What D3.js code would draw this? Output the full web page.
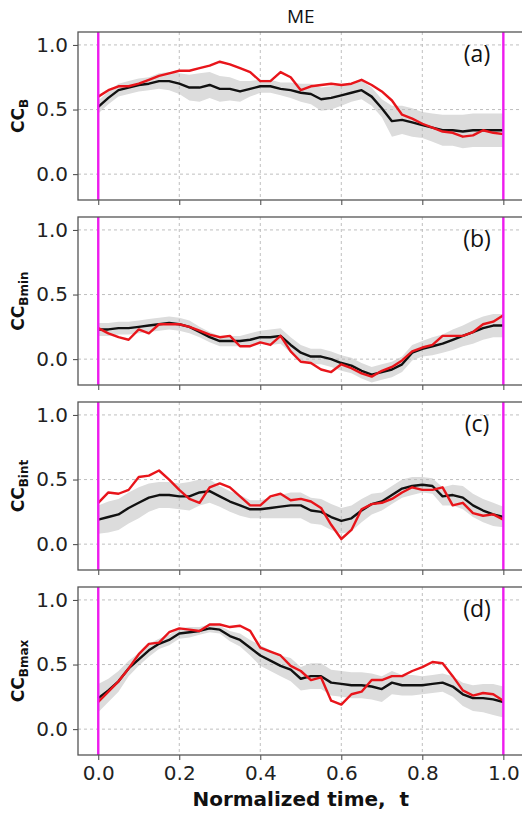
<!DOCTYPE html>
<html>
<head>
<meta charset="utf-8">
<script src="https://cdn.jsdelivr.net/npm/d3@7"></script>
<style>
  body { margin: 0; background: #fff; }
</style>
</head>
<body>
<div id="chart"></div>
<script>
// normalized time samples
var T = [0.000,0.025,0.050,0.075,0.100,0.125,0.150,0.175,0.200,0.225,
         0.250,0.275,0.300,0.325,0.350,0.375,0.400,0.425,0.450,0.475,
         0.500,0.525,0.550,0.575,0.600,0.625,0.650,0.675,0.700,0.725,
         0.750,0.775,0.800,0.825,0.850,0.875,0.900,0.925,0.950,0.975,1.000];

var xTicks = [0.0, 0.2, 0.4, 0.6, 0.8, 1.0];
var yTicks = [0.0, 0.5, 1.0];
var panelTags = ["(a)", "(b)", "(c)", "(d)"];
var panelSubs = ["B", "Bmin", "Bint", "Bmax"];

// (a) CC_B
var meanA = [0.52,0.59,0.65,0.67,0.69,0.70,0.72,0.72,0.70,0.67,0.67,0.69,0.66,0.66,0.64,0.66,0.68,0.68,0.66,0.65,
             0.63,0.62,0.58,0.59,0.61,0.63,0.65,0.60,0.51,0.41,0.42,0.40,0.38,0.36,0.34,0.34,0.33,0.34,0.34,0.34,0.34];
var spreadA = [0.05,0.05,0.05,0.05,0.05,0.05,0.06,0.07,0.08,0.10,0.11,0.10,0.10,0.09,0.08,0.06,0.05,0.05,0.05,0.06,
               0.07,0.08,0.09,0.09,0.08,0.07,0.07,0.07,0.07,0.12,0.11,0.11,0.10,0.11,0.12,0.12,0.13,0.13,0.13,0.13,0.13];
var redA = [0.60,0.65,0.68,0.68,0.70,0.73,0.76,0.78,0.80,0.80,0.82,0.84,0.87,0.85,0.82,0.79,0.72,0.72,0.79,0.75,
            0.65,0.68,0.69,0.70,0.69,0.70,0.73,0.69,0.64,0.57,0.46,0.43,0.39,0.36,0.33,0.32,0.29,0.30,0.34,0.32,0.31];

// (b) CC_Bmin
var meanB = [0.23,0.23,0.24,0.24,0.25,0.26,0.27,0.28,0.27,0.25,0.21,0.17,0.14,0.14,0.14,0.15,0.17,0.17,0.18,0.11,
             0.05,0.02,0.02,0.00,-0.03,-0.05,-0.09,-0.12,-0.10,-0.08,-0.04,0.05,0.08,0.10,0.12,0.15,0.18,0.21,0.24,0.26,0.26];
var spreadB = [0.05,0.05,0.05,0.05,0.05,0.05,0.05,0.05,0.05,0.05,0.04,0.04,0.04,0.04,0.04,0.05,0.05,0.06,0.06,0.06,
               0.06,0.06,0.06,0.06,0.06,0.06,0.06,0.06,0.06,0.06,0.06,0.06,0.06,0.07,0.07,0.08,0.08,0.09,0.09,0.09,0.09];
var redB = [0.24,0.20,0.17,0.15,0.23,0.20,0.27,0.27,0.27,0.25,0.22,0.19,0.17,0.18,0.10,0.10,0.13,0.11,0.18,0.06,
            -0.02,-0.03,-0.08,-0.10,-0.04,-0.07,-0.11,-0.135,-0.09,-0.06,-0.01,0.06,0.09,0.11,0.18,0.18,0.18,0.21,0.27,0.29,0.34];

// (c) CC_Bint
var meanC = [0.19,0.21,0.23,0.28,0.32,0.36,0.38,0.38,0.37,0.37,0.40,0.41,0.37,0.33,0.30,0.27,0.27,0.28,0.29,0.30,
             0.30,0.26,0.25,0.21,0.18,0.20,0.26,0.31,0.33,0.38,0.43,0.45,0.46,0.45,0.37,0.38,0.36,0.30,0.26,0.23,0.21];
var spreadC = [0.11,0.12,0.12,0.12,0.12,0.11,0.10,0.10,0.10,0.11,0.10,0.09,0.08,0.08,0.08,0.07,0.07,0.08,0.09,0.10,
               0.10,0.10,0.10,0.10,0.10,0.10,0.09,0.08,0.07,0.07,0.07,0.07,0.06,0.06,0.07,0.08,0.09,0.09,0.09,0.09,0.08];
var redC = [0.32,0.40,0.39,0.42,0.52,0.53,0.57,0.50,0.42,0.35,0.32,0.44,0.47,0.44,0.37,0.30,0.30,0.37,0.39,0.34,
            0.35,0.33,0.28,0.15,0.04,0.11,0.27,0.31,0.32,0.35,0.40,0.44,0.42,0.42,0.44,0.30,0.32,0.24,0.22,0.23,0.19];

// (d) CC_Bmax
var meanD = [0.24,0.30,0.37,0.47,0.54,0.61,0.66,0.69,0.74,0.75,0.76,0.78,0.77,0.72,0.69,0.63,0.57,0.53,0.49,0.46,
             0.39,0.41,0.41,0.36,0.35,0.34,0.34,0.33,0.31,0.36,0.34,0.34,0.34,0.35,0.36,0.33,0.27,0.24,0.24,0.23,0.21];
var spreadD = [0.11,0.09,0.08,0.06,0.05,0.05,0.04,0.04,0.04,0.04,0.03,0.03,0.03,0.04,0.05,0.06,0.08,0.08,0.08,0.09,
               0.09,0.10,0.10,0.10,0.10,0.10,0.10,0.10,0.10,0.09,0.08,0.08,0.07,0.07,0.07,0.08,0.09,0.10,0.11,0.12,0.12];
var redD = [0.21,0.29,0.37,0.47,0.58,0.66,0.67,0.75,0.78,0.77,0.76,0.81,0.81,0.79,0.80,0.76,0.63,0.60,0.57,0.49,
            0.45,0.38,0.40,0.22,0.19,0.27,0.29,0.38,0.38,0.41,0.41,0.45,0.48,0.52,0.51,0.41,0.30,0.26,0.28,0.27,0.22];

var means = [meanA, meanB, meanC, meanD];
var spreads = [spreadA, spreadB, spreadC, spreadD];
var reds = [redA, redB, redC, redD];

var W = 522, H = 814;
var left = 78, right = 523.6;
var panelTop = 32, panelH = 168, panelStep = 185;
var tickFont = "'DejaVu Sans', sans-serif";

var svg = d3.select("#chart").append("svg")
    .attr("width", W)
    .attr("height", H);

var x = d3.scaleLinear().domain([-0.05, 1.05]).range([left, right]);

// title
svg.append("text")
    .attr("x", (left + right) / 2)
    .attr("y", 23)
    .attr("text-anchor", "middle")
    .style("font-family", "'Open Sans', sans-serif")
    .style("font-size", "19px")
    .style("fill", "#111")
    .text("ME");

function drawPanel(p) {
    var py = panelTop + p * panelStep;
    var y = d3.scaleLinear().domain([-0.2, 1.1]).range([py + panelH, py]);
    var g = svg.append("g");

    g.append("clipPath").attr("id", "clip" + p)
        .append("rect")
        .attr("x", left).attr("y", py)
        .attr("width", right - left).attr("height", panelH);

    var rows = T.map(function (t, i) {
        return { t: t, m: means[p][i], s: spreads[p][i], r: reds[p][i] };
    });

    var plot = g.append("g").attr("clip-path", "url(#clip" + p + ")");

    // std band
    plot.append("path")
        .datum(rows)
        .attr("fill", "#dcdcdc")
        .attr("d", d3.area()
            .x(function (d) { return x(d.t); })
            .y0(function (d) { return y(d.m - d.s); })
            .y1(function (d) { return y(d.m + d.s); }));

    // dashed grid
    plot.selectAll(".gx").data(xTicks).enter().append("line")
        .attr("x1", function (d) { return x(d); })
        .attr("x2", function (d) { return x(d); })
        .attr("y1", py).attr("y2", py + panelH)
        .attr("stroke", "#b8b8b8").attr("stroke-width", 0.9)
        .attr("stroke-dasharray", "3,3");
    plot.selectAll(".gy").data(yTicks).enter().append("line")
        .attr("x1", left).attr("x2", right)
        .attr("y1", function (d) { return y(d); })
        .attr("y2", function (d) { return y(d); })
        .attr("stroke", "#b8b8b8").attr("stroke-width", 0.9)
        .attr("stroke-dasharray", "3,3");

    // mean (black) and individual (red)
    plot.append("path")
        .datum(rows)
        .attr("fill", "none")
        .attr("stroke", "#111")
        .attr("stroke-width", 2.4)
        .attr("stroke-linejoin", "round")
        .attr("d", d3.line()
            .x(function (d) { return x(d.t); })
            .y(function (d) { return y(d.m); }));
    plot.append("path")
        .datum(rows)
        .attr("fill", "none")
        .attr("stroke", "#e8151b")
        .attr("stroke-width", 2.4)
        .attr("stroke-linejoin", "round")
        .attr("d", d3.line()
            .x(function (d) { return x(d.t); })
            .y(function (d) { return y(d.r); }));

    // magenta markers at t=0 and t=1
    plot.selectAll(".vl").data([0, 1]).enter().append("line")
        .attr("x1", function (d) { return x(d); })
        .attr("x2", function (d) { return x(d); })
        .attr("y1", py).attr("y2", py + panelH)
        .attr("stroke", "#ee1cee").attr("stroke-width", 2.4);

    // axes
    var xAxis = g.append("g")
        .attr("transform", "translate(0," + (py + panelH) + ")")
        .call(d3.axisBottom(x).tickValues(xTicks).tickSize(5).tickPadding(6)
            .tickFormat(p === 3 ? d3.format(".1f") : function () { return ""; }));
    var yAxis = g.append("g")
        .attr("transform", "translate(" + left + ",0)")
        .call(d3.axisLeft(y).tickValues(yTicks).tickSize(5).tickPadding(5)
            .tickFormat(d3.format(".1f")));
    [xAxis, yAxis].forEach(function (a) {
        a.select(".domain").remove();
        a.selectAll(".tick line").attr("stroke", "#444").attr("stroke-width", 1);
        a.selectAll(".tick text")
            .style("font-family", tickFont)
            .style("font-size", "20px")
            .style("fill", "#222");
    });

    // frame
    g.append("rect")
        .attr("x", left).attr("y", py)
        .attr("width", right - left).attr("height", panelH)
        .attr("fill", "none")
        .attr("stroke", "#555")
        .attr("stroke-width", 1.3);

    // panel tag
    g.append("text")
        .attr("x", 477).attr("y", py + 30)
        .attr("text-anchor", "middle")
        .style("font-family", "'Open Sans', sans-serif")
        .style("font-size", "23px")
        .style("fill", "#111")
        .text(panelTags[p]);

    // y label CC with subscript
    var lab = g.append("text")
        .attr("transform", "translate(24," + (py + panelH / 2) + ") rotate(-90)")
        .attr("text-anchor", "middle")
        .style("font-family", tickFont)
        .style("font-weight", "bold")
        .style("fill", "#111");
    lab.append("tspan").style("font-size", "17px").text("CC");
    lab.append("tspan").style("font-size", "12px").attr("dy", 4).text(panelSubs[p]);
}

for (var p = 0; p < 4; p++) {
    drawPanel(p);
}

// x label
svg.append("text")
    .attr("x", (left + right) / 2)
    .attr("y", 806)
    .attr("text-anchor", "middle")
    .attr("xml:space", "preserve")
    .style("font-family", tickFont)
    .style("font-weight", "bold")
    .style("font-size", "20px")
    .style("fill", "#111")
    .text("Normalized time,  t");
</script>
</body>
</html>
